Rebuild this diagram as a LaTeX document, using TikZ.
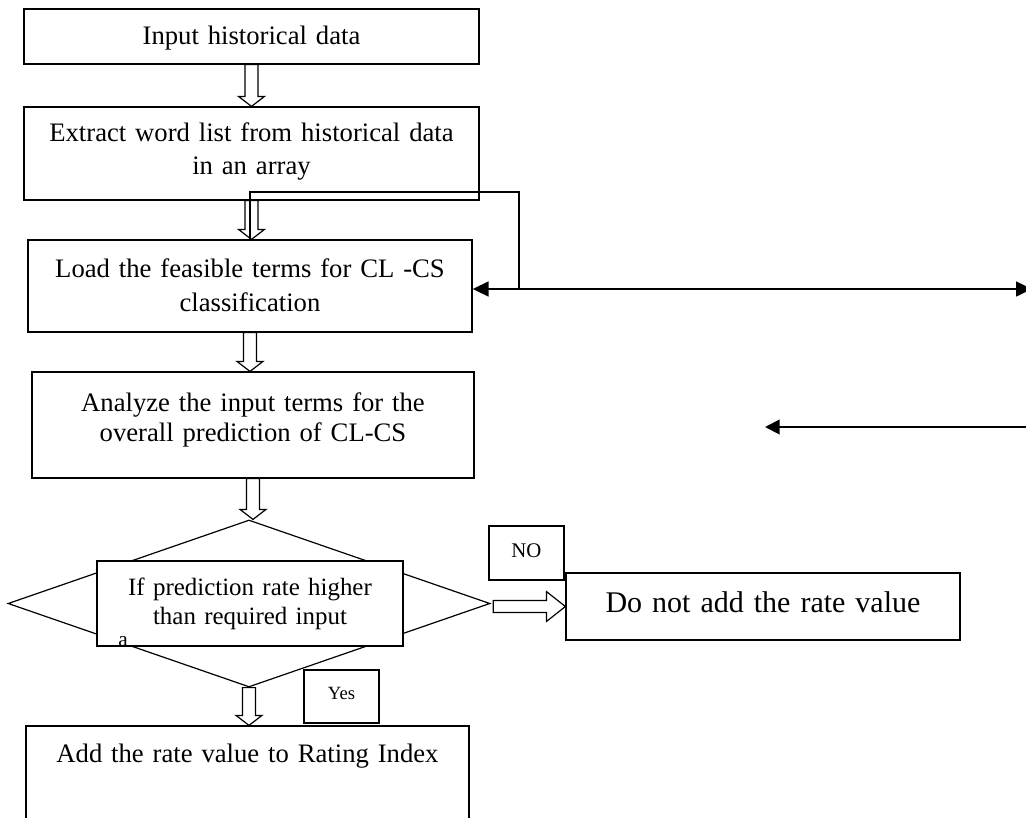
\documentclass[tikz,border=0pt]{standalone}
\usepackage{fontspec}
\setmainfont{Liberation Serif}
\usepackage{tikz}
\tikzstyle{proc} = [rectangle, draw = black, fill = white, line width = 0.9pt, align = center, inner sep = 0pt, anchor = base, font = \fontsize{20}{24.75}\selectfont]
\tikzstyle{tag} = [proc, text width = 56.25pt, font = \fontsize{15.6}{18}\selectfont]
\tikzstyle{arrow} = [-{Triangle[length=12pt,width=11pt]}, line width = 2pt]
\tikzstyle{hollowdown} = [draw, line width = 0.9pt, to path = {let \p1 = (\tikztostart), \p2 = (\tikztotarget) in (\x1-4.9pt,\y1) -- (\x1-4.9pt,\y2+7.5pt) -- (\x1-9.75pt,\y2+7.5pt) -- (\x1,\y2) -- (\x1+9.75pt,\y2+7.5pt) -- (\x1+4.9pt,\y2+7.5pt) -- (\x1+4.9pt,\y1) -- cycle}]
\tikzstyle{hollowright} = [draw, line width = 0.9pt, to path = {let \p1 = (\tikztostart), \p2 = (\tikztotarget) in (\x1+2pt,\y2+4.5pt) -- (\x2-14.25pt,\y2+4.5pt) -- (\x2-14.25pt,\y2+11.25pt) -- (\x2,\y2) -- (\x2-14.25pt,\y2-11.25pt) -- (\x2-14.25pt,\y2-4.5pt) -- (\x1+2pt,\y2-4.5pt) -- cycle}]
\usetikzlibrary{arrows.meta, calc, shapes.geometric}

\begin{document}
\begin{tikzpicture}[x = 0.75pt, y = -0.75pt]
      \useasboundingbox (0,0) rectangle (1026,818);
      \clip (0,0) rectangle (1026,818);

      \node[proc, text width = 341.25pt, text height = 26.25pt, text depth = 15pt] (in) at (251.5,44) {Input historical data};
      \node[proc, text width = 341.25pt, text height = 25.5pt, text depth = 44.25pt] (ext) at (251.5,141) {Extract word list from historical data\\ in an array};
      \node[proc, text width = 333pt, text height = 27.75pt, text depth = 41.25pt, font = \fontsize{20}{25.5}\selectfont] (load) at (250,277) {Load the feasible terms for CL -CS\\ classification};
      \node[proc, text width = 331.5pt, text height = 29.25pt, text depth = 50.25pt, font = \fontsize{20}{22.5}\selectfont] (ana) at (253,411) {Analyze the input terms for the\\ overall prediction of CL-CS};

      \node[diamond, draw, line width = 0.9pt, minimum width = 361.5pt, minimum height = 125.25pt, inner sep = 0pt] (dec) at (249,603.5) {};
      \node[proc, text width = 229.5pt, text height = 25.5pt, text depth = 38.25pt, font = \fontsize{18.7}{21.75}\selectfont] (cond) at (250,595) {If prediction rate higher\\ than required input};
      \node[font = \fontsize{16}{18}\selectfont, inner sep = 0pt] (mark) at (123,642) {a};

      \node[tag, text height = 23.25pt, text depth = 17.25pt] (no) at (526.5,557) {NO};
      \node[proc, text width = 295.5pt, text height = 29.25pt, text depth = 21pt, font = \fontsize{22.5}{26}\selectfont] (skip) at (763,612) {Do not add the rate value};
      \node[tag, text height = 21.75pt, text depth = 18pt, font = \fontsize{14}{16}\selectfont] (yes) at (341.5,699) {Yes};
      \node[proc, text width = 332.25pt, text height = 27pt, text depth = 51pt] (rate) at (247.5,762) {Add the rate value to Rating Index};

      \draw[hollowdown] (in.south) to (ext.north);
      \draw[hollowdown] (ext.south) to (load.north);
      \draw[hollowdown] (load.south) to (ana.north);
      \draw[hollowdown] (ana.south) to (dec.north);
      \draw[hollowdown] (dec.south) to (rate.north);
      \draw[hollowright] (dec.east) to (skip.west);

      % loop back into the load step
      \coordinate (fbtop) at (519,192);
      \coordinate (rend) at (1032,289);
      \draw[line width = 2.2pt] (load.north) |- (fbtop) -- (fbtop |- rend);
      \draw[{Triangle[length=12pt,width=11pt]}-{Triangle[length=12pt,width=11pt]}, line width = 2pt] (load.east |- rend) -- (rend);

      \coordinate (lstart) at (1030,427);
      \coordinate (lend) at (765,427);
      \draw[arrow, -{Triangle[length=11pt,width=11pt]}, line width = 1.4pt] (lstart) -- (lend);
    \end{tikzpicture}
\end{document}
